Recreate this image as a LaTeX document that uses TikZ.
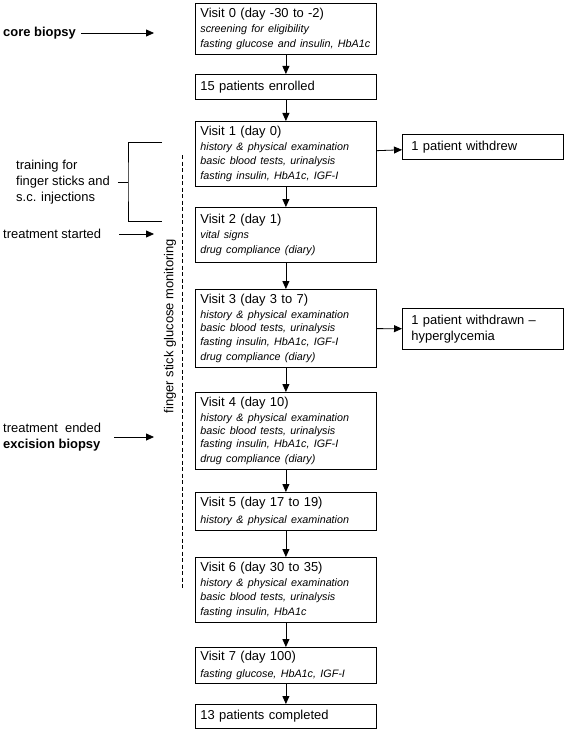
\documentclass[tikz,border=0pt]{standalone}
\usepackage{fontspec}
\setmainfont{Liberation Sans}
\usetikzlibrary{arrows.meta}

\newcommand{\smallit}{\fontsize{10.8}{13.5}\selectfont\itshape}

\begin{document}
\begin{tikzpicture}[x=1bp, y=-1bp,
	box/.style={draw, line width=0.8bp, anchor=north west, text width=171bp, inner xsep=5bp, inner ysep=0pt, align=left, font=\fontsize{13}{15}\selectfont},
	sbox/.style={draw, line width=0.8bp, anchor=north west, text width=143bp, inner xsep=9bp, inner ysep=0pt, align=left, font=\fontsize{13}{16}\selectfont},
	lbl/.style={anchor=west, inner sep=0pt, align=left, font=\fontsize{13}{16}\selectfont},
	arr/.style={-{Triangle[length=8bp, width=7bp]}, line width=0.8bp}]
	\useasboundingbox (0, 0) rectangle (567, 732);
	% visits
	\node[box, minimum height=51bp] (v0) at (195, 3) {Visit 0 (day -30 to -2)\\[1.5bp]\smallit screening for eligibility\\fasting glucose and insulin, HbA1c};
	\node[box, minimum height=25bp] (p15) at (195, 74) {15 patients enrolled};
	\node[box, minimum height=65bp] (v1) at (195, 121) {Visit 1 (day 0)\\[1.5bp]\smallit history \& physical examination\\basic blood tests, urinalysis\\fasting insulin, HbA1c, IGF-I};
	\node[box, minimum height=55bp] (v2) at (195, 207) {Visit 2 (day 1)\\[1.5bp]\smallit vital signs\\drug compliance (diary)};
	\node[box, minimum height=78bp] (v3) at (195, 289) {Visit 3 (day 3 to 7)\\[1.5bp]\smallit history \& physical examination\\basic blood tests, urinalysis\\fasting insulin, HbA1c, IGF-I\\drug compliance (diary)};
	\node[box, minimum height=77bp] (v4) at (195, 392) {Visit 4 (day 10)\\[1.5bp]\smallit history \& physical examination\\basic blood tests, urinalysis\\fasting insulin, HbA1c, IGF-I\\drug compliance (diary)};
	\node[box, minimum height=38bp] (v5) at (195, 492) {Visit 5 (day 17 to 19)\\[1.5bp]\smallit history \& physical examination};
	\node[box, minimum height=65bp] (v6) at (195, 557) {Visit 6 (day 30 to 35)\\[1.5bp]\smallit history \& physical examination\\basic blood tests, urinalysis\\fasting insulin, HbA1c};
	\node[box, minimum height=36bp] (v7) at (195, 647) {Visit 7 (day 100)\\[1.5bp]\smallit fasting glucose, HbA1c, IGF-I};
	\node[box, minimum height=24bp] (p13) at (195, 704) {13 patients completed};
	\draw[arr] (v0) -- (p15);
	\draw[arr] (p15) -- (v1);
	\draw[arr] (v1) -- (v2);
	\draw[arr] (v2) -- (v3);
	\draw[arr] (v3) -- (v4);
	\draw[arr] (v4) -- (v5);
	\draw[arr] (v5) -- (v6);
	\draw[arr] (v6) -- (v7);
	\draw[arr] (v7) -- (p13);
	% drop outs
	\node[sbox, minimum height=25bp] (wd) at (402, 134) {1 patient withdrew};
	\node[sbox, minimum height=41bp] (hyp) at (402, 308) {1 patient withdrawn –\\hyperglycemia};
	\draw[arr] (v1) -- (wd);
	\draw[arr] (v3) -- (hyp);
	% left side
	\node[lbl] (cb) at (3, 33) {\textbf{core biopsy}};
	\coordinate (cbend) at (154, 33);
	\draw[arr, shorten <=5bp] (cb) -- (cbend);
	\node[lbl] (tr) at (16, 182) {training for\\finger sticks and\\s.c. injections};
	\coordinate (bt) at (162, 142);
	\coordinate (bm) at (128, 182);
	\coordinate (bb) at (162, 221);
	\draw[line width=0.8bp] (bt) -| (bm) |- (bb);
	\draw[line width=0.8bp, shorten <=8bp] (tr) -- (bm);
	\node[lbl] (ts) at (3, 234) {treatment started};
	\coordinate (tsend) at (154, 234);
	\draw[arr, shorten <=18bp] (ts) -- (tsend);
	\node[lbl] (te) at (3, 437) {treatment\ \ ended\\\textbf{excision biopsy}};
	\coordinate (teend) at (154, 437);
	\draw[arr, shorten <=13bp] (te) -- (teend);
	% glucose monitoring
	\coordinate (dtop) at (182, 155);
	\coordinate (dbot) at (182, 590);
	\draw[line width=0.8bp, dash pattern=on 4bp off 2.5bp] (dtop) -- (dbot);
	\node[rotate=90, font=\fontsize{13}{15}\selectfont] (fsg) at (170, 326) {finger stick glucose monitoring};
\end{tikzpicture}
\end{document}
